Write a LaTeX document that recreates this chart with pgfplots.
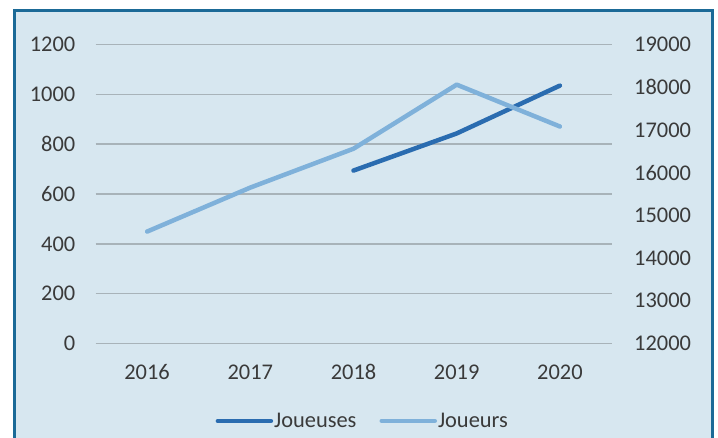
\documentclass[border=0pt]{standalone}
\usepackage{pgfplots}
\pgfplotsset{compat=1.18}
\usepackage{fontspec}
\setmainfont{Carlito}
\definecolor{bg}{HTML}{D7E7F0}
\definecolor{frame}{HTML}{1B6A97}
\definecolor{dark}{HTML}{2A6CB0}
\definecolor{light}{HTML}{7FB1DA}
\definecolor{gridc}{HTML}{A8B3B9}
\definecolor{txt}{HTML}{3A3A3A}
\begin{document}
\begin{tikzpicture}[x=1bp,y=1bp]
\path[use as bounding box, fill=white] (0,0) rectangle (718,438);
\fill[bg] (14,-5) rectangle (712,427.5);
\draw[frame, line width=3bp] (14,-5) -- (14,427.5) -- (712,427.5) -- (712,-5);
\pgfplotsset{
  common/.style={
    at={(95.5bp,94.5bp)}, anchor=south west, scale only axis,
    width=516bp, height=299bp, xmin=2015.5, xmax=2020.5,
    axis line style={draw=none}, major tick length=0pt, clip=false,
    scaled ticks=false,
    /pgf/number format/1000 sep={}, /pgf/number format/assume math mode=true,
    tick label style={font=\fontsize{22.5}{26}\selectfont, text=txt},
  }
}
\begin{axis}[common,
  ymin=0, ymax=1200, ytick={0,200,...,1200},
  xtick={2016,2017,2018,2019,2020},
  ymajorgrids, grid style={gridc, line width=1.5bp},
  yticklabel style={anchor=east, inner sep=0pt, xshift=-20bp},
  xticklabel style={anchor=base, inner sep=0pt, yshift=-36bp},
  legend style={at={(0.517,-0.259)}, anchor=center, draw=none, fill=none,
    legend columns=2, font=\fontsize{22.5}{26}\selectfont, text=txt,
    nodes={inner sep=1bp},
    /tikz/every even column/.append style={column sep=22bp}},
  legend image code/.code={\draw[#1] (0bp,0bp) -- (53bp,0bp);},
]
\addplot[dark, line width=4.5bp, line cap=round, line join=round] coordinates {(2018,694) (2019,843) (2020,1035)};
\addlegendentry{Joueuses}
\addlegendimage{light, line width=4.5bp, line cap=round}
\addlegendentry{Joueurs}
\end{axis}
\begin{axis}[common,
  ymin=12000, ymax=19000, ytick={12000,13000,...,19000},
  axis y line*=right, axis x line=none, xtick=\empty,
  yticklabel style={anchor=west, inner sep=0pt, xshift=22.5bp},
]
\addplot[light, line width=4.5bp, line cap=round, line join=round] coordinates {(2016,14620) (2017,15650) (2018,16560) (2019,18060) (2020,17080)};
\end{axis}
\end{tikzpicture}
\end{document}
